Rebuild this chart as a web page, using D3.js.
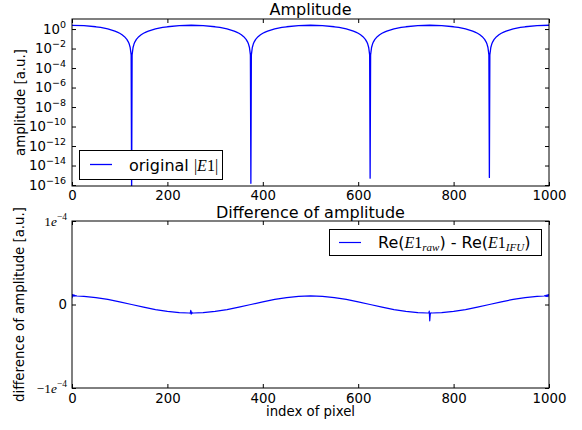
<!DOCTYPE html>
<html><head><meta charset="utf-8">
<script src="https://cdn.jsdelivr.net/npm/d3@7"></script>
<style>
body{margin:0;background:#fff}
svg{display:block}
text{font-family:"DejaVu Sans",sans-serif;fill:#000}
.serif{font-family:"Liberation Serif","DejaVu Serif",serif}
</style>
</head><body>
<svg id="c" width="582" height="430"></svg>
<script>
// ---------- data ----------
const xTicks = [0, 200, 400, 600, 800, 1000];
const ampTickExps = [0, -2, -4, -6, -8, -10, -12, -14, -16];
const diffTicks = [-1e-4, 0, 1e-4];

// original |E1| (amplitude, a.u.)
const ampX = [
  0,25,50,60,75,85,90,95,100,105,110,115,118,120,122,124,125,126,128,130,132,135,140,145,150,155,160,165,175,190,200,225,
  250,275,300,310,325,335,340,345,350,355,360,365,368,370,372,374,375,376,378,380,382,385,390,395,400,405,410,415,425,440,450,475,
  500,525,550,560,575,585,590,595,600,605,610,615,618,620,622,624,625,626,628,630,632,635,640,645,650,655,660,665,675,690,700,725,
  750,775,800,810,825,835,840,845,850,855,860,865,868,870,872,874,875,876,878,880,882,885,890,895,900,905,910,915,925,940,950,975,
  1000
];
const ampY = [
  2.40,2.22,1.71,1.45,1.03,0.746,0.613,0.485,0.367,0.259,0.165,0.0866,0.049,0.0287,0.0127,0.0022,1e-17,0.0022,0.0127,0.0287,0.049,0.0866,0.165,0.259,0.367,0.485,0.613,0.746,1.03,1.45,1.71,2.22,
  2.45,2.22,1.71,1.45,1.03,0.746,0.613,0.485,0.367,0.259,0.165,0.0866,0.049,0.0287,0.0127,0.0022,1.5e-16,0.0022,0.0127,0.0287,0.049,0.0866,0.165,0.259,0.367,0.485,0.613,0.746,1.03,1.45,1.71,2.22,
  2.45,2.22,1.71,1.45,1.03,0.746,0.613,0.485,0.367,0.259,0.165,0.0866,0.049,0.0287,0.0127,0.0022,5e-16,0.0022,0.0127,0.0287,0.049,0.0866,0.165,0.259,0.367,0.485,0.613,0.746,1.03,1.45,1.71,2.22,
  2.45,2.22,1.71,1.45,1.03,0.746,0.613,0.485,0.367,0.259,0.165,0.0866,0.049,0.0287,0.0127,0.0022,6e-16,0.0022,0.0127,0.0287,0.049,0.0866,0.165,0.259,0.367,0.485,0.613,0.746,1.03,1.45,1.71,2.22,
  2.45
];

// Re(E1_raw) - Re(E1_IFU), in units of 1e-5
const diffUnit = 1e-5;
const diffX = [
  0,1,2,3,4,5,6,8,10,25,50,75,100,125,150,175,200,225,245,248,249,250,251,252,255,275,300,325,350,375,400,425,450,475,
  500,525,550,575,600,625,650,675,700,725,745,748,749,750,751,752,755,775,800,825,850,875,900,925,950,975,
  990,992,994,995,996,997,998,999,1000
];
const diffY = [
  0.75,1.2,1.0,1.15,1.0,1.12,1.02,1.06,1.02,0.98,0.83,0.61,0.32,0.0,-0.32,-0.61,-0.83,-0.98,-1.02,-1.03,-0.7,-1.15,-0.9,-1.03,-1.02,-0.98,-0.83,-0.61,-0.32,0.0,0.32,0.61,0.83,0.98,
  1.03,0.98,0.83,0.61,0.32,0.0,-0.32,-0.61,-0.83,-0.98,-1.02,-1.0,-0.8,-1.95,-1.2,-1.0,-1.02,-0.98,-0.83,-0.61,-0.32,0.0,0.32,0.61,0.83,0.98,
  1.02,1.08,0.96,1.12,0.98,1.15,0.95,1.18,1.05
];

// ---------- layout ----------
const svg = d3.select("#c");
const L = 72, R = 549;
const top1 = 19, bot1 = 186, top2 = 221, bot2 = 388;
const lineColor = "#0000ff";

const x1 = d3.scaleLinear().domain([0, 1000]).range([L, R]);
const y1 = d3.scaleLog().domain([Math.pow(10, -16.1), Math.pow(10, 1.03)]).range([bot1, top1]);
const x2 = d3.scaleLinear().domain([0, 1000]).range([L, R]);
const y2 = d3.scaleLinear().domain([-1e-4, 1e-4]).range([bot2, top2]);

const defs = svg.append("defs");
defs.append("clipPath").attr("id", "clip1").append("rect")
  .attr("x", L).attr("y", top1).attr("width", R - L).attr("height", bot1 - top1);
defs.append("clipPath").attr("id", "clip2").append("rect")
  .attr("x", L).attr("y", top2).attr("width", R - L).attr("height", bot2 - top2);

function ticks(g, axisFn, scale, vals, tx, ty, withLabels, pad) {
  const a = axisFn(scale).tickValues(vals).tickSizeInner(-4).tickSizeOuter(0).tickPadding(pad || 6);
  if (!withLabels) a.tickFormat(""); else a.tickFormat(d3.format("d"));
  const gg = svg.append("g").attr("transform", `translate(${tx},${ty})`).call(a);
  gg.select(".domain").remove();
  gg.selectAll(".tick line").attr("stroke", "#000").attr("stroke-width", 1);
  gg.selectAll("text").attr("font-size", "13.3px").attr("font-family", "DejaVu Sans").attr("fill", "#000");
  return gg;
}

// ---------- top panel ----------
const ampData = ampX.map((x, i) => [x, ampY[i]]);
svg.append("path").datum(ampData)
  .attr("clip-path", "url(#clip1)")
  .attr("fill", "none").attr("stroke", lineColor).attr("stroke-width", 1.3)
  .attr("stroke-linejoin", "round")
  .attr("d", d3.line().x(d => x1(d[0])).y(d => y1(Math.max(d[1], 1e-20))));

ticks(svg, d3.axisBottom, x1, xTicks, 0, bot1, true, 4.5);
ticks(svg, d3.axisTop, x1, xTicks, 0, top1, false);
const ampTickVals = ampTickExps.map(e => Math.pow(10, e));
ticks(svg, d3.axisLeft, y1, ampTickVals, L, 0, false);
ticks(svg, d3.axisRight, y1, ampTickVals, R, 0, false);

// log tick labels 10^n
ampTickExps.forEach(e => {
  const yy = y1(Math.pow(10, e));
  const t = svg.append("text").attr("x", 66).attr("y", yy + 4.8)
    .attr("text-anchor", "end").attr("font-size", "13.3px");
  t.append("tspan").text("10");
  t.append("tspan").attr("dy", -6).attr("font-size", "9.5px").text(e < 0 ? "\u2212" + (-e) : String(e));
});

svg.append("rect").attr("x", L).attr("y", top1).attr("width", R - L).attr("height", bot1 - top1)
  .attr("fill", "none").attr("stroke", "#000").attr("stroke-width", 1);

// legend 1
svg.append("rect").attr("x", 79.5).attr("y", 150.5).attr("width", 143).attr("height", 29)
  .attr("fill", "#fff").attr("stroke", "#000").attr("stroke-width", 1);
svg.append("line").attr("x1", 90).attr("x2", 112).attr("y1", 164.5).attr("y2", 164.5)
  .attr("stroke", lineColor).attr("stroke-width", 1.3);
{
  const t = svg.append("text").attr("x", 129).attr("y", 170.5).attr("font-size", "16px");
  t.append("tspan").text("original ");
  t.append("tspan").attr("class", "serif").text("|");
  t.append("tspan").attr("class", "serif").attr("font-style", "italic").text("E");
  t.append("tspan").attr("class", "serif").text("1|");
}

// title, ylabel
svg.append("text").attr("x", (L + R) / 2).attr("y", 14.5).attr("text-anchor", "middle")
  .attr("font-size", "16px").text("Amplitude");
svg.append("text").attr("transform", `translate(25,${(top1 + bot1) / 2}) rotate(-90)`)
  .attr("text-anchor", "middle").attr("font-size", "13.3px").text("amplitude [a.u.]");

// ---------- bottom panel ----------
const diffData = diffX.map((x, i) => [x, diffY[i] * diffUnit]);
svg.append("path").datum(diffData)
  .attr("clip-path", "url(#clip2)")
  .attr("fill", "none").attr("stroke", lineColor).attr("stroke-width", 1.2)
  .attr("stroke-linejoin", "round")
  .attr("d", d3.line().x(d => x2(d[0])).y(d => y2(d[1])));

ticks(svg, d3.axisBottom, x2, xTicks, 0, bot2, true, 6);
ticks(svg, d3.axisTop, x2, xTicks, 0, top2, false);
ticks(svg, d3.axisLeft, y2, diffTicks, L, 0, false);
ticks(svg, d3.axisRight, y2, diffTicks, R, 0, false);

diffTicks.forEach(v => {
  const yy = y2(v);
  const t = svg.append("text").attr("x", 67).attr("y", yy + 4.8)
    .attr("text-anchor", "end").attr("font-size", "13.3px").attr("fill", "#333");
  if (v === 0) {
    t.text("0");
  } else {
    t.attr("class", "serif");
    t.append("tspan").text((v < 0 ? "\u2212" : "") + "1");
    t.append("tspan").attr("font-style", "italic").text("e");
    t.append("tspan").attr("dy", -6).attr("font-size", "9.5px").text("\u22124");
  }
});

svg.append("rect").attr("x", L).attr("y", top2).attr("width", R - L).attr("height", bot2 - top2)
  .attr("fill", "none").attr("stroke", "#000").attr("stroke-width", 1);

// legend 2
svg.append("rect").attr("x", 329.5).attr("y", 229.5).attr("width", 212).attr("height", 26)
  .attr("fill", "#fff").attr("stroke", "#000").attr("stroke-width", 1);
svg.append("line").attr("x1", 339).attr("x2", 361).attr("y1", 242.5).attr("y2", 242.5)
  .attr("stroke", lineColor).attr("stroke-width", 1.2);
{
  const t = svg.append("text").attr("x", 378).attr("y", 248).attr("font-size", "16px");
  t.append("tspan").text("Re(");
  t.append("tspan").attr("class", "serif").attr("font-style", "italic").text("E");
  t.append("tspan").attr("class", "serif").text("1");
  t.append("tspan").attr("class", "serif").attr("font-style", "italic").attr("font-size", "11px").attr("dy", 3).text("raw");
  t.append("tspan").attr("dy", -3).text(") - Re(");
  t.append("tspan").attr("class", "serif").attr("font-style", "italic").text("E");
  t.append("tspan").attr("class", "serif").text("1");
  t.append("tspan").attr("class", "serif").attr("font-style", "italic").attr("font-size", "11px").attr("dy", 3).text("IFU");
  t.append("tspan").attr("dy", -3).text(")");
}

svg.append("text").attr("x", (L + R) / 2).attr("y", 217.5).attr("text-anchor", "middle")
  .attr("font-size", "16px").text("Difference of amplitude");
svg.append("text").attr("transform", `translate(24,${(top2 + bot2) / 2}) rotate(-90)`)
  .attr("text-anchor", "middle").attr("font-size", "13.3px").text("difference of amplitude [a.u.]");
svg.append("text").attr("x", (L + R) / 2).attr("y", 416).attr("text-anchor", "middle")
  .attr("font-size", "13.3px").text("index of pixel");
</script>
</body></html>
